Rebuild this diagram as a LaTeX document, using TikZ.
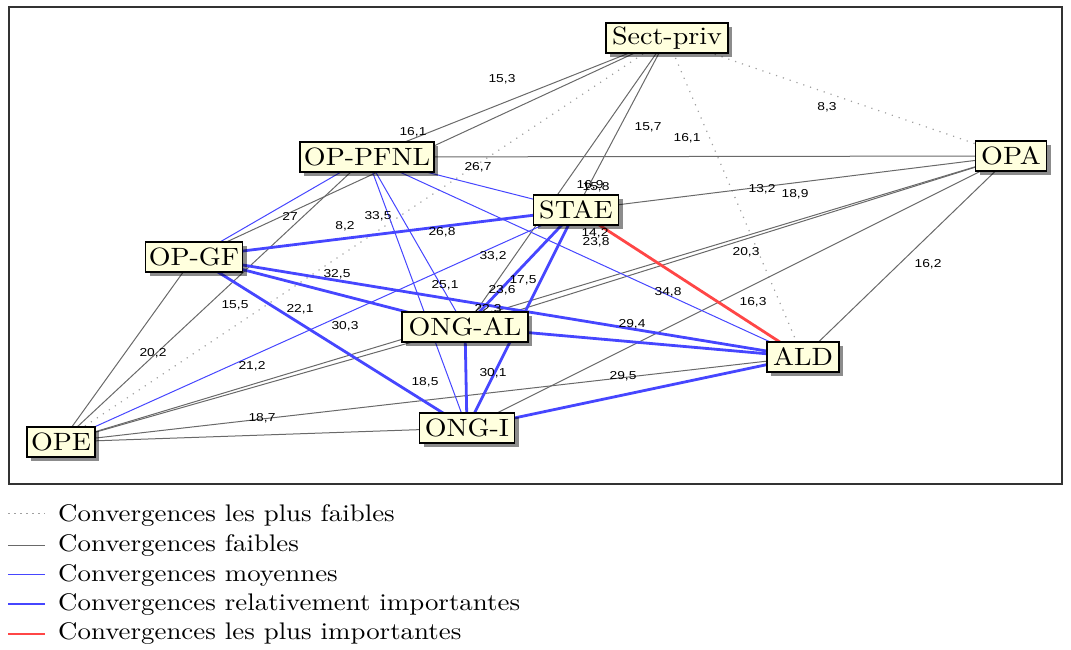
\documentclass[tikz,border=0pt]{standalone}
\usepackage{fontspec}
\usetikzlibrary{shadows}
\newfontfamily\lmfont{lmroman10-regular.otf}[FakeStretch=1.12]
\newfontfamily\lblfont{Liberation Sans}[FakeStretch=1.2]
\definecolor{cream}{RGB}{255,255,222}
\definecolor{eblue}{RGB}{70,70,255}
\definecolor{ered}{RGB}{255,70,70}
\definecolor{egray}{RGB}{105,105,105}
\definecolor{edot}{RGB}{160,160,160}
\pgfdeclarelayer{background}
\pgfsetlayers{background,main}
\begin{document}
\begin{tikzpicture}[x=1pt,y=-1pt,
 actor/.style={draw=black, line width=1.6pt, fill=cream, minimum height=30pt, inner sep=0pt,
   font=\lmfont\fontsize{25}{25}\selectfont,
   drop shadow={shadow xshift=4pt, shadow yshift=-4pt, opacity=0.45, fill=black}},
 wk/.style={edot, line width=1.2pt, dash pattern=on 1.2pt off 6pt},
 fb/.style={egray, line width=1pt},
 mo/.style={eblue, line width=1pt},
 ri/.style={eblue, line width=2.8pt},
 pi/.style={ered, line width=2.8pt},
 lbl/.style={font=\lblfont\fontsize{11.5}{11.5}\selectfont, inner sep=0pt, text=black},
 leg/.style={anchor=west, inner sep=0pt, font=\lmfont\fontsize{24}{24}\selectfont}]

\useasboundingbox (0,0) rectangle (1071,650);
\draw[line width=1.4pt, black!80] (9,7) rectangle (1062,484);

% actors
\node[actor, minimum width=122pt] (sp) at (667,38) {Sect-priv};
\node[actor, minimum width=134pt] (opp) at (367,157) {OP-PFNL};
\node[actor, minimum width=71pt] (opa) at (1011,156) {OPA};
\node[actor, minimum width=85pt] (stae) at (576,210) {STAE};
\node[actor, minimum width=97pt] (opgf) at (194,257) {OP-GF};
\node[actor, minimum width=126pt] (ongal) at (465,327) {ONG-AL};
\node[actor, minimum width=72pt] (ald) at (803,357) {ALD};
\node[actor, minimum width=95pt] (ongi) at (467,428) {ONG-I};
\node[actor, minimum width=68pt] (ope) at (61,442) {OPE};

\begin{pgfonlayer}{background}
% weakest (dotted)
\draw[wk] (sp.center) -- (ope.center);
\draw[wk] (sp.center) -- (ald.center);
\draw[wk] (sp.center) -- (opa.center);
% weak (gray)
\draw[fb] (sp.center) -- (opp.center);
\draw[fb] (sp.center) -- (opgf.center);
\draw[fb] (sp.center) -- (stae.center);
\draw[fb] (sp.center) -- (ongal.center);
\draw[fb] (opp.center) -- (opa.center);
\draw[fb] (opp.center) -- (ope.center);
\draw[fb] (opgf.center) -- (ope.center);
\draw[fb] (opa.center) -- (stae.center);
\draw[fb] (opa.center) -- (ope.center);
\draw[fb] (opa.center) -- (ongal.center);
\draw[fb] (ongal.center) -- (ope.center);
\draw[fb] (opa.center) -- (ongi.center);
\draw[fb] (opa.center) -- (ald.center);
\draw[fb] (ald.center) -- (ope.center);
\draw[fb] (ongi.center) -- (ope.center);
% medium (thin blue)
\draw[mo] (opp.center) -- (opgf.center);
\draw[mo] (opp.center) -- (stae.center);
\draw[mo] (opp.center) -- (ongal.center);
\draw[mo] (opp.center) -- (ongi.center);
\draw[mo] (opp.center) -- (ald.center);
\draw[mo] (stae.center) -- (ope.center);
% relatively important (thick blue)
\draw[ri] (opgf.center) -- (stae.center);
\draw[ri] (opgf.center) -- (ongal.center);
\draw[ri] (opgf.center) -- (ald.center);
\draw[ri] (opgf.center) -- (ongi.center);
\draw[ri] (stae.center) -- (ongal.center);
\draw[ri] (stae.center) -- (ongi.center);
\draw[ri] (ongal.center) -- (ald.center);
\draw[ri] (ongal.center) -- (ongi.center);
\draw[ri] (ald.center) -- (ongi.center);
% most important (red)
\draw[pi] (stae.center) -- (ald.center);

% value labels
\node[lbl] (v01) at (502,79) {15,3};
\node[lbl] (v02) at (413,132) {16,1};
\node[lbl] (v03) at (478,167) {26,7};
\node[lbl] (v04) at (648,127) {15,7};
\node[lbl] (v05) at (687,138) {16,1};
\node[lbl] (v06) at (827,107) {8,3};
\node[lbl] (v07) at (762,189) {13,2};
\node[lbl] (v08) at (795,194) {18,9};
\node[lbl] (v09) at (746,252) {20,3};
\node[lbl] (v10) at (928,264) {16,2};
\node[lbl] (v11) at (668,292) {34,8};
\node[lbl] (v12) at (753,302) {16,3};
\node[lbl] (v13) at (632,324) {29,4};
\node[lbl] (v14) at (623,376) {29,5};
\node[lbl] (v15) at (290,216) {27};
\node[lbl] (v16) at (345,226) {8,2};
\node[lbl] (v17) at (378,216) {33,5};
\node[lbl] (v18) at (337,274) {32,5};
\node[lbl] (v19) at (235,305) {15,5};
\node[lbl] (v20) at (300,309) {22,1};
\node[lbl] (v21) at (345,326) {30,3};
\node[lbl] (v22) at (153,353) {20,2};
\node[lbl] (v23) at (252,366) {21,2};
\node[lbl] (v24) at (262,418) {18,7};
\node[lbl] (v25) at (442,232) {26,8};
\node[lbl] (v26) at (445,285) {25,1};
\node[lbl] (v27) at (493,256) {33,2};
\node[lbl] (v28) at (523,280) {17,5};
\node[lbl] (v29) at (502,290) {23,6};
\node[lbl] (v30) at (488,309) {22,3};
\node[lbl] (v31) at (590,185) {16,9};
\node[lbl] (v32) at (596,187) {15,8};
\node[lbl] (v33) at (595,233) {14,2};
\node[lbl] (v34) at (596,242) {23,8};
\node[lbl] (v35) at (425,382) {18,5};
\node[lbl] (v36) at (493,373) {30,1};
\end{pgfonlayer}

% legend
\coordinate (a1) at (8,513);  \coordinate (b1) at (45,513);
\coordinate (a2) at (8,545);  \coordinate (b2) at (45,545);
\coordinate (a3) at (8,574);  \coordinate (b3) at (45,574);
\coordinate (a4) at (8,604);  \coordinate (b4) at (45,604);
\coordinate (a5) at (8,634);  \coordinate (b5) at (45,634);
\draw[edot, line width=1pt, dash pattern=on 2pt off 4pt] (a1) -- (b1);
\draw[fb] (a2) -- (b2);
\draw[mo] (a3) -- (b3);
\draw[ri] (a4) -- (b4);
\draw[pi] (a5) -- (b5);
\node[leg] (t1) at (58,516) {Convergences les plus faibles};
\node[leg] (t2) at (58,546) {Convergences faibles};
\node[leg] (t3) at (58,576) {Convergences moyennes};
\node[leg] (t4) at (58,605) {Convergences relativement importantes};
\node[leg] (t5) at (58,634) {Convergences les plus importantes};
\end{tikzpicture}
\end{document}
